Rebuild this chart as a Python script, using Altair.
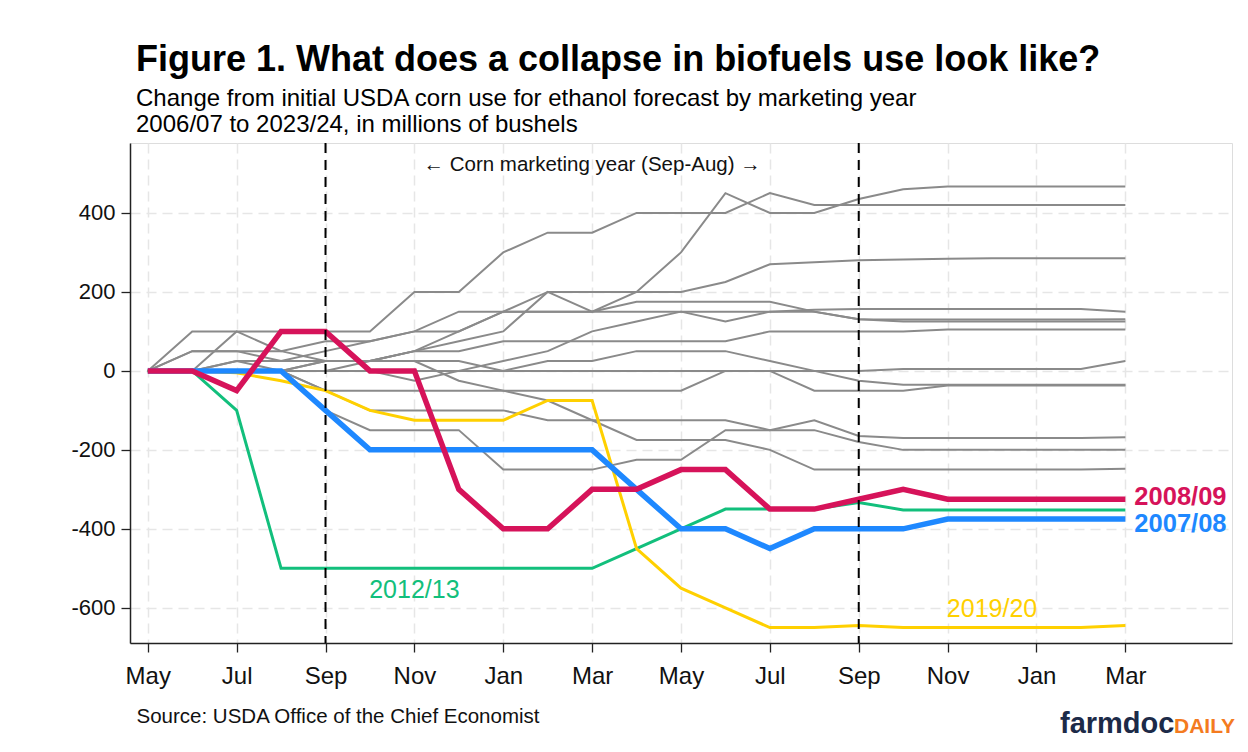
import json
import altair as alt
import pandas as pd

# ---------------- data ----------------
months = list(range(23))  # 0 = May of first year ... 22 = March two years later
tick_values = list(range(0, 23, 2))
tick_labels = ["May", "Jul", "Sep", "Nov", "Jan", "Mar", "May", "Jul", "Sep", "Nov", "Jan", "Mar"]

gray_2006 = [0, 0, 0, 0, 0, 25, 50, 75, 100, 200, 150, 200, 300, 450, 400, 400, 435, 460, 467, 467, 467, 467, 467]
gray_2009 = [0, 100, 100, 100, 100, 100, 200, 200, 300, 350, 350, 400, 400, 400, 450, 420, 420, 420, 420, 420, 420, 420, 420]
gray_2010 = [0, 50, 50, 25, 50, 75, 100, 100, 150, 200, 200, 200, 200, 225, 270, 275, 280, 282, 284, 285, 285, 285, 285]
gray_2011 = [0, 0, 100, 50, 75, 75, 100, 150, 150, 150, 150, 175, 175, 175, 175, 150, 131, 130, 130, 130, 130, 130, 131]
gray_2013 = [0, 0, 0, 0, 25, 25, 50, 100, 150, 150, 150, 150, 150, 125, 150, 155, 157, 157, 157, 157, 157, 157, 150]
gray_2014 = [0, 0, 0, 0, 0, 0, -25, 0, 25, 50, 100, 125, 150, 150, 150, 150, 131, 125, 125, 125, 125, 125, 125]
gray_2015 = [0, 50, 50, 50, 25, 25, 50, 50, 75, 75, 75, 75, 75, 75, 100, 100, 100, 100, 105, 105, 105, 105, 105]
gray_2016 = [0, 0, 0, 0, 0, 0, 0, 0, 0, 0, 0, 0, 0, 0, 0, 0, 0, 5, 5, 5, 5, 5, 25]
gray_2017 = [0, 0, 25, 0, 25, 25, 25, 25, 0, 25, 25, 50, 50, 50, 25, 0, -25, -35, -35, -35, -35, -35, -35]
gray_2018 = [0, 0, 0, 0, -50, -50, -50, -50, -50, -50, -50, -50, -50, 0, 0, -50, -50, -50, -37, -37, -37, -37, -37]
gray_2020 = [0, 0, 25, 25, 25, 25, 25, -25, -50, -75, -125, -175, -175, -175, -200, -250, -250, -250, -250, -250, -250, -250, -248]
gray_2021 = [0, 0, 0, 0, -50, -100, -100, -100, -100, -125, -125, -125, -125, -125, -150, -150, -180, -200, -200, -200, -200, -200, -200]
gray_2022 = [0, 0, 0, 0, -100, -150, -150, -150, -250, -250, -250, -225, -225, -150, -150, -125, -165, -170, -170, -170, -170, -170, -168]

y2007_08 = [0, 0, 0, 0, -100, -200, -200, -200, -200, -200, -200, -300, -400, -400, -450, -400, -400, -400, -375, -375, -375, -375, -375]
y2008_09 = [0, 0, -50, 100, 100, 0, 0, -300, -400, -400, -300, -300, -250, -250, -350, -350, -325, -300, -325, -325, -325, -325, -325]
y2012_13 = [0, 0, -100, -500, -500, -500, -500, -500, -500, -500, -500, -450, -400, -350, -350, -350, -333, -352, -352, -352, -352, -352, -352]
y2019_20 = [0, 0, -5, -25, -50, -100, -125, -125, -125, -75, -75, -450, -550, -600, -650, -650, -645, -650, -650, -650, -650, -650, -645]

gray_names = ["2006/07", "2009/10", "2010/11", "2011/12", "2013/14", "2014/15", "2015/16",
              "2016/17", "2017/18", "2018/19", "2020/21", "2021/22", "2022/23"]
gray_values = [gray_2006, gray_2009, gray_2010, gray_2011, gray_2013, gray_2014, gray_2015,
               gray_2016, gray_2017, gray_2018, gray_2020, gray_2021, gray_2022]

sep_lines = [4, 16]

label_text = ["2008/09", "2007/08", "2012/13", "2019/20"]
label_month = [22, 22, 6, 19]
label_value = [-320, -388, -555, -603]

# ---------------- frames ----------------
def long(name, vals):
    return pd.DataFrame({"series": name, "month": months, "value": vals})

gray_df = pd.concat([long(n, v) for n, v in zip(gray_names, gray_values)], ignore_index=True)

RED = "#d6135a"
BLUE = "#1e88ff"
GREEN = "#12bf7c"
YELLOW = "#ffd000"
FONT = "Liberation Sans"

label_expr = json.dumps(tick_labels) + "[round(datum.value / 2)]"

x_main = alt.X(
    "month:Q",
    scale=alt.Scale(domain=[-0.4, 24.4], nice=False, zero=False),
    axis=alt.Axis(
        values=tick_values, labelExpr=label_expr, grid=True,
        gridDash=[10, 6], gridColor="#e6e6e6", gridWidth=1.5,
        domainColor="#222", domainWidth=1.5, tickColor="#222", tickWidth=1.3, tickSize=9,
        labelFontSize=24, labelFont=FONT, labelColor="#111", labelPadding=12,
        title="Source: USDA Office of the Chief Economist",
        titleX=6, titleY=73, titleAlign="left", titleAnchor="start", titleBaseline="middle",
        titleFontSize=20.5, titleFont=FONT, titleFontWeight="normal", titleColor="#111",
    ),
)
y_main = alt.Y(
    "value:Q",
    scale=alt.Scale(domain=[-689, 577], nice=False, zero=False),
    axis=alt.Axis(
        values=[-600, -400, -200, 0, 200, 400], grid=True, labelExpr="'' + datum.value",
        gridDash=[10, 6], gridColor="#e6e6e6", gridWidth=1.5,
        domainColor="#222", domainWidth=1.5, tickColor="#222", tickWidth=1.3, tickSize=9,
        labelFontSize=22, labelFont=FONT, labelColor="#111", labelPadding=6,
        title=None,
    ),
)

gray = alt.Chart(gray_df).mark_line(color="#8a8a8a", strokeWidth=2).encode(
    x=x_main, y=y_main, detail="series:N"
)

def hl(name, vals, color, width):
    return alt.Chart(long(name, vals)).mark_line(color=color, strokeWidth=width).encode(
        x="month:Q", y="value:Q"
    )

green = hl("2012/13", y2012_13, GREEN, 3)
yellow = hl("2019/20", y2019_20, YELLOW, 3)
blue = hl("2007/08", y2007_08, BLUE, 5.5)
red = hl("2008/09", y2008_09, RED, 5.5)

rules = alt.Chart(pd.DataFrame({"month": sep_lines})).mark_rule(
    color="black", strokeWidth=2, strokeDash=[10, 7]
).encode(x="month:Q")

lab_df = pd.DataFrame({"label": label_text, "month": label_month, "value": label_value})

bold_labels = alt.Chart(lab_df.iloc[:2]).mark_text(
    align="left", baseline="middle", dx=9, font=FONT, fontSize=25.5, fontWeight="bold"
).encode(
    x="month:Q", y="value:Q", text="label:N",
    color=alt.Color("label:N", scale=alt.Scale(domain=label_text[:2], range=[RED, BLUE]), legend=None),
)
plain_labels = alt.Chart(lab_df.iloc[2:]).mark_text(
    align="center", baseline="middle", font=FONT, fontSize=25
).encode(
    x="month:Q", y="value:Q", text="label:N",
    color=alt.Color("label:N", scale=alt.Scale(domain=label_text[2:], range=[GREEN, YELLOW]), legend=None),
)

note = alt.Chart(pd.DataFrame({"month": [10], "value": [521], "t": ["\u2190 Corn marketing year (Sep-Aug) \u2192"]})).mark_text(
    align="center", baseline="middle", font=FONT, fontSize=20.5, color="#111"
).encode(x="month:Q", y="value:Q", text="t:N")

logo1 = alt.Chart(pd.DataFrame({"t": ["farmdoc"]})).mark_text(
    align="left", baseline="alphabetic", font=FONT, fontSize=29, fontWeight="bold", color="#1c2a48"
).encode(x=alt.value(930), y=alt.value(590), text="t:N")
logo2 = alt.Chart(pd.DataFrame({"t": ["DAILY"]})).mark_text(
    align="left", baseline="alphabetic", font=FONT, fontSize=21, fontWeight="bold", color="#f47b20"
).encode(x=alt.value(1044), y=alt.value(590), text="t:N")

chart = alt.layer(
    gray, green, yellow, blue, red, rules,
    bold_labels, plain_labels, note, logo1, logo2
).resolve_scale(color="independent").properties(
    width=1102, height=500,
    autosize=alt.AutoSizeParams(type="none"),
    padding={"left": 122, "top": 135, "right": 8, "bottom": 100},
    title=alt.TitleParams(
        text="Figure 1. What does a collapse in biofuels use look like?",
        subtitle=["Change from initial USDA corn use for ethanol forecast by marketing year",
                  "2006/07 to 2023/24, in millions of bushels"],
        anchor="start", frame="group", dx=6, offset=4,
        font=FONT, fontSize=36, fontWeight="bold", color="black",
        subtitleFont=FONT, subtitleFontSize=24, subtitleColor="black",
        subtitlePadding=8, subtitleLineHeight=26,
    ),
).configure_view(stroke=None).configure(background="white")

chart.save("out.html", embed_options={"renderer": "svg", "actions": False})
